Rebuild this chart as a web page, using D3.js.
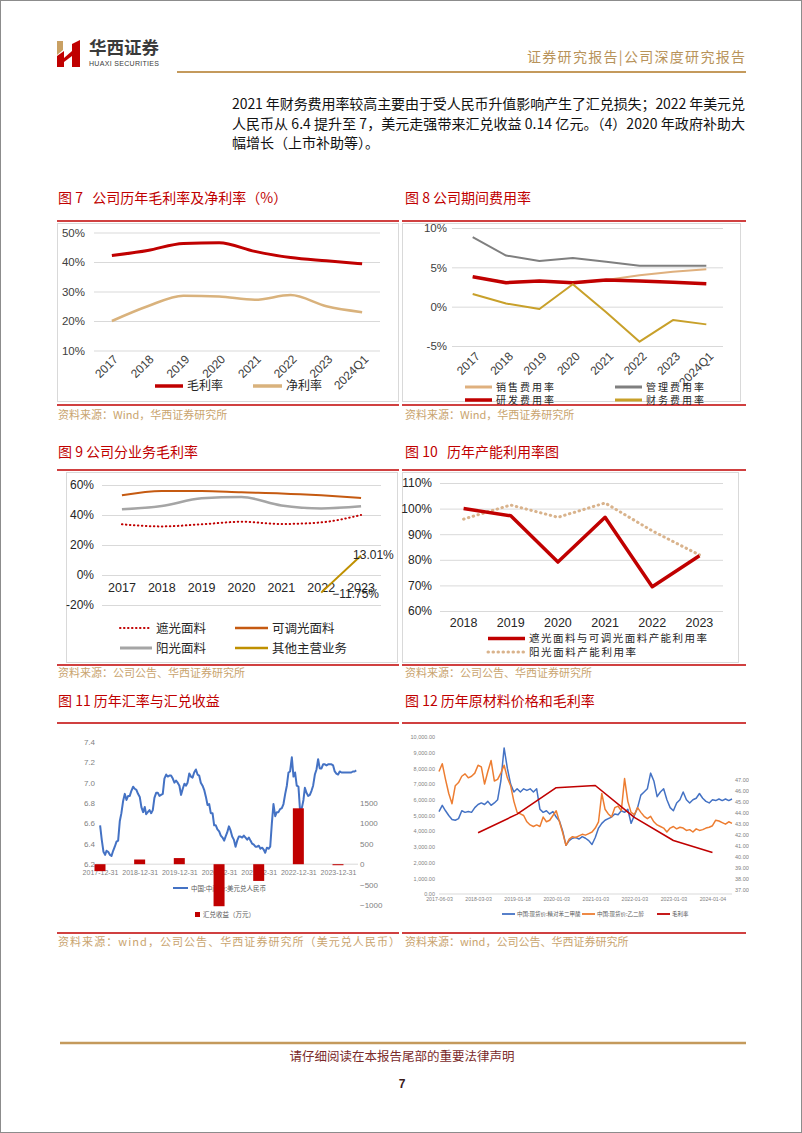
<!DOCTYPE html>
<html><head><meta charset="utf-8">
<script src="https://cdn.jsdelivr.net/npm/d3@7/dist/d3.min.js"></script>
<style>body{margin:0;background:#fff}svg{display:block}text{white-space:pre}</style>
</head><body><svg id="page" width="802" height="1133"></svg>
<script>
// ================= DATA =================
const yearsA = ["2017","2018","2019","2020","2021","2022","2023","2024Q1"];
const grossMargin = [42.2,43.9,46.3,46.5,43.6,41.5,40.4,39.4];
const netMargin   = [20.0,25.0,28.6,28.3,27.2,28.8,25.0,23.0];

const sellRate = [3.8,3.1,3.3,2.95,3.4,4.0,4.45,4.75];
const mgmtRate = [8.85,6.5,5.8,6.2,5.7,5.2,5.2,5.2];
const rdRate   = [3.8,3.05,3.25,3.05,3.4,3.25,3.1,2.9];
const finRate  = [1.6,0.4,-0.3,2.85,-0.7,-4.45,-1.7,-2.25];

const yearsB  = ["2017","2018","2019","2020","2021","2022","2023"];
const shadeGM = [33.8,32.4,33.8,35.5,34.0,35.1,40.0];
const dimGM   = [53.1,56.0,56.0,55.1,54.4,53.1,51.3];
const sunGM   = [43.8,46.0,51.1,52.0,46.4,44.4,45.8];
const otherYears = ["2022","2023"];
const otherGM    = [-11.75,13.01];

const yearsC      = ["2018","2019","2020","2021","2022","2023"];
const capShadeDim = [100.0,97.2,79.1,96.6,69.5,81.6];
const capSun      = [95.9,101.4,96.6,102.2,91.3,81.9];

// USD/CNY central parity, semi-monthly readings (1st & 16th) from 2018-01 to 2024-06
const fxStart = "2018-01-01";
const fxRate = [
 6.58,6.44,6.32,6.29,6.33,6.32,6.29,6.28,6.33,6.37,6.42,6.43,6.62,6.70,6.82,6.89,6.83,6.87,6.87,6.92,6.96,6.94,6.93,6.89,
 6.86,6.76,6.71,6.76,6.69,6.71,6.73,6.70,6.73,6.85,6.90,6.90,6.87,6.88,6.89,7.04,7.08,7.06,7.07,7.07,7.04,7.00,7.02,7.00,
 6.97,6.88,6.94,6.99,6.97,7.00,7.09,7.06,7.05,7.10,7.13,7.08,7.07,7.00,6.97,6.93,6.86,6.78,6.79,6.70,6.70,6.58,6.58,6.54,
 6.52,6.48,6.46,6.43,6.47,6.51,6.57,6.53,6.47,6.44,6.37,6.43,6.47,6.47,6.46,6.48,6.46,6.44,6.46,6.43,6.40,6.39,6.37,6.37,
 6.38,6.35,6.36,6.34,6.31,6.36,6.35,6.37,6.60,6.79,6.67,6.71,6.71,6.74,6.75,6.79,6.89,6.97,7.10,7.11,7.25,7.06,7.10,6.97,
 6.96,6.72,6.75,6.83,6.95,6.90,6.87,6.88,6.92,6.97,7.08,7.13,7.23,7.14,7.14,7.18,7.18,7.17,7.18,7.18,7.18,7.17,7.11,7.09,
 7.08,7.11,7.10,7.10,7.10,7.10,7.10,7.10,7.10,7.11,7.11,7.12];
const fxYearEnds = ["2017-12-31","2018-12-31","2019-12-31","2020-12-31","2021-12-31","2022-12-31","2023-12-31"];
const fxGain = [-170,115,150,-1030,-410,1370,-25];

// Raw material prices: 12 readings per tick interval
const priceTicks = ["2017-06-03","2018-03-03","2019-01-18","2020-01-03","2021-01-03","2022-01-03","2023-01-03","2024-01-04"];
const ptaPrice = [
 5250,5650,5300,5000,4750,4700,4800,5300,5200,5250,
 5200,5500,5700,5800,5700,5900,5650,5800,6000,7200,
 9300,8000,7000,6500,6700,6500,6700,6600,6700,6500,
 6700,5400,5200,5300,5100,5250,4900,4650,4000,3100,
 3400,3550,3600,3500,3650,3550,3400,3150,3600,4200,
 4500,4700,4800,4900,5100,5050,5300,5200,5400,4500,
 5000,5500,6300,6500,6700,7700,7200,6200,6500,6700,
 6000,5500,5300,5800,6000,6500,6000,5800,6000,6100,
 6400,6100,5900,5800,6000,5950,6050,5950,6050,5950,6050];
const megPrice = [
 7800,8300,7300,6400,5750,6900,7100,7500,7650,7400,
 7500,7700,8200,8100,7000,7800,8500,7200,7300,7700,
 8200,7400,6900,5900,5200,5100,5000,4600,4400,4300,
 4400,4300,4900,4600,4700,5000,5300,4600,3900,3100,
 3500,3650,3600,3700,3800,3750,3850,3950,4200,4600,
 6400,5400,5100,4900,5500,5600,5300,7350,5900,5200,
 5050,5500,5200,4950,4800,4950,4600,4400,4300,4200,
 3950,4200,4300,4150,4250,4200,4050,4100,3950,4150,
 4050,4100,4200,4250,4350,4700,4650,4550,4450,4600,4500];
const marginYearly = grossMargin.slice(0,7); // 2017-2023, placed at ticks 2..8

// ================= HELPERS =================
const svg = d3.select("#page");
const RED = "#c00000", GOLD = "#c49a5c", SRC = "#c9a46e";
const CJK = "'Noto Sans CJK SC','Liberation Sans',sans-serif";
const LAT = "'Liberation Sans','Noto Sans CJK SC',sans-serif";

function txt(p, x, y, s, o = {}) {
  const t = p.append("text").attr("x", x).attr("y", y).text(s)
    .attr("font-size", o.fs || 12).attr("fill", o.fill || "#000")
    .attr("font-family", o.ff || CJK).attr("text-anchor", o.anchor || "start")
    .attr("xml:space", "preserve");
  if (o.len) t.attr("textLength", o.len).attr("lengthAdjust", "spacing");
  if (o.fw) t.attr("font-weight", o.fw);
  return t;
}
function hl(p, x1, x2, y, stroke, w, dash) {
  const l = p.append("line").attr("x1", x1).attr("x2", x2).attr("y1", y).attr("y2", y)
    .attr("stroke", stroke).attr("stroke-width", w);
  if (dash) l.attr("stroke-dasharray", dash);
  return l;
}
function styleAxis(a, fs, color, ff) {
  a.select(".domain").remove();
  a.attr("font-family", ff || LAT).attr("font-size", fs);
  a.selectAll(".tick line").attr("stroke", "#d9d9d9").attr("stroke-width", 1);
  a.selectAll(".tick text").attr("fill", color);
}
function path(p, data, line, color, w, dash) {
  const e = p.append("path").datum(data).attr("d", line).attr("fill", "none")
    .attr("stroke", color).attr("stroke-width", w).attr("stroke-linejoin", "round");
  if (dash) e.attr("stroke-dasharray", dash).attr("stroke-linecap", "round");
  return e;
}
function legendItem(p, x1, x2, y, color, w, dash, label, fs, len) {
  const l = hl(p, x1, x2, y, color, w, dash);
  if (dash) l.attr("stroke-linecap", "round");
  txt(p, x2 + 4, y + fs * 0.36, label, { fs: fs, fill: "#262626", len: len });
}
function frame(p, x, y, w, h) {
  p.append("rect").attr("x", x).attr("y", y).attr("width", w).attr("height", h)
    .attr("fill", "none").attr("stroke", "#d9d9d9").attr("stroke-width", 1);
}

// ================= PAGE =================
svg.append("rect").attr("x", 0.5).attr("y", 0.5).attr("width", 801).attr("height", 1132)
  .attr("fill", "#fff").attr("stroke", "#8c8c8c");

// logo
const logo = svg.append("g");
logo.append("path").attr("d", "M57,41 L63,41 L63,50 L57,55 Z").attr("fill", "#c9a063");
logo.append("path").attr("d", "M57,56 L64,51 L64,67 L57,67 Z").attr("fill", RED);
logo.append("path").attr("d", "M64,58 L72,51 L72,56 L64,62 Z").attr("fill", RED);
logo.append("path").attr("d", "M72,44 L80,40 L80,67 L72,67 Z").attr("fill", RED);
txt(svg, 89, 54, "华西证券", { fs: 17.5, fw: "bold", fill: "#3a3a3a", len: 70 });
txt(svg, 89, 66, "HUAXI SECURITIES", { fs: 7, fill: "#3a3a3a", ff: LAT, len: 70 });

txt(svg, 527, 62, "证券研究报告|公司深度研究报告", { fs: 14, fill: "#b8935a", len: 218 });
hl(svg, 177, 746, 72, GOLD, 2);

// paragraph
txt(svg, 232, 109, "2021 年财务费用率较高主要由于受人民币升值影响产生了汇兑损失；2022 年美元兑", { fs: 14, fill: "#111", len: 513 });
txt(svg, 232, 129, "人民币从 6.4 提升至 7，美元走强带来汇兑收益 0.14 亿元。（4）2020 年政府补助大", { fs: 14, fill: "#111", len: 513 });
txt(svg, 232, 148, "幅增长（上市补助等）。", { fs: 14, fill: "#111" });

// titles & separators
txt(svg, 58, 203, "图 7   公司历年毛利率及净利率（%）", { fs: 14, fill: RED });
txt(svg, 405, 203, "图 8 公司期间费用率", { fs: 14, fill: RED });
hl(svg, 57, 399, 221, RED, 1.5); hl(svg, 402, 746, 221, RED, 1.5);
hl(svg, 57, 399, 405, RED, 1.5); hl(svg, 402, 746, 405, RED, 1.5);
txt(svg, 58, 419, "资料来源：Wind，华西证券研究所", { fs: 11, fill: SRC });
txt(svg, 405, 419, "资料来源：Wind，华西证券研究所", { fs: 11, fill: SRC });

txt(svg, 58, 457, "图 9 公司分业务毛利率", { fs: 14, fill: RED });
txt(svg, 405, 457, "图 10   历年产能利用率图", { fs: 14, fill: RED });
hl(svg, 57, 399, 470, RED, 1.5); hl(svg, 402, 746, 470, RED, 1.5);
hl(svg, 57, 399, 665, RED, 1.5); hl(svg, 402, 746, 665, RED, 1.5);
txt(svg, 58, 677, "资料来源：公司公告、华西证券研究所", { fs: 11, fill: SRC });
txt(svg, 405, 677, "资料来源：公司公告、华西证券研究所", { fs: 11, fill: SRC });

txt(svg, 58, 706, "图 11 历年汇率与汇兑收益", { fs: 14, fill: RED });
txt(svg, 405, 706, "图 12 历年原材料价格和毛利率", { fs: 14, fill: RED });
hl(svg, 57, 399, 723, RED, 1.5); hl(svg, 402, 746, 723, RED, 1.5);
hl(svg, 57, 399, 933, RED, 1.5); hl(svg, 402, 746, 933, RED, 1.5);
txt(svg, 58, 946, "资料来源：wind，公司公告、华西证券研究所（美元兑人民币）", { fs: 11, fill: SRC, len: 342 });
txt(svg, 405, 946, "资料来源：wind，公司公告、华西证券研究所", { fs: 11, fill: SRC });

// footer
hl(svg, 60, 746, 1043, GOLD, 2.5);
txt(svg, 402, 1061, "请仔细阅读在本报告尾部的重要法律声明", { fs: 12.5, fill: "#7b2a2a", anchor: "middle" });
txt(svg, 402, 1088, "7", { fs: 12, fw: "bold", fill: "#3a1a1a", anchor: "middle", ff: LAT });

// ================= CHART 7 =================
(function () {
  const g = svg.append("g");
  frame(g, 57.5, 223.5, 341, 178);
  const x = d3.scaleBand().domain(yearsA).range([94, 380]);
  const y = d3.scaleLinear().domain([10, 50]).range([350.5, 232.5]);
  const ya = g.append("g").attr("transform", "translate(94,0)")
    .call(d3.axisLeft(y).tickValues([10, 20, 30, 40, 50]).tickFormat(d => d + "%").tickSize(-286).tickPadding(9));
  styleAxis(ya, 11.5, "#404040");
  const xa = g.append("g").attr("transform", "translate(0,352)").call(d3.axisBottom(x).tickSize(0));
  styleAxis(xa, 12, "#404040");
  xa.selectAll(".tick text").attr("x", 0).attr("y", 0).attr("dy", "0.35em")
    .attr("transform", "translate(4,5) rotate(-45)").attr("text-anchor", "end");
  const cx = (d, i) => x(yearsA[i]) + x.bandwidth() / 2;
  const ln = d3.line().x(cx).y(d => y(d)).curve(d3.curveMonotoneX);
  path(g, netMargin, ln, "#d9b27c", 2.5);
  path(g, grossMargin, ln, RED, 3);
  legendItem(g, 155, 183, 386, RED, 3.5, null, "毛利率", 12);
  legendItem(g, 253, 282, 386, "#d9b27c", 3.5, null, "净利率", 12);
})();

// ================= CHART 8 =================
(function () {
  const g = svg.append("g");
  frame(g, 402.5, 223.5, 338, 178);
  const x = d3.scaleBand().domain(yearsA).range([456, 723]);
  const y = d3.scaleLinear().domain([-5, 10]).range([346, 228]);
  const ya = g.append("g").attr("transform", "translate(452,0)")
    .call(d3.axisLeft(y).tickValues([-5, 0, 5, 10]).tickFormat(d => d + "%").tickSize(-271).tickPadding(5));
  styleAxis(ya, 11.5, "#404040");
  const xa = g.append("g").attr("transform", "translate(0,350)").call(d3.axisBottom(x).tickSize(0));
  styleAxis(xa, 12, "#404040");
  xa.selectAll(".tick text").attr("x", 0).attr("y", 0).attr("dy", "0.35em")
    .attr("transform", "translate(5,4) rotate(-45)").attr("text-anchor", "end");
  const cx = (d, i) => x(yearsA[i]) + x.bandwidth() / 2;
  const ln = d3.line().x(cx).y(d => y(d));
  path(g, sellRate, ln, "#dfb07e", 2);
  path(g, mgmtRate, ln, "#7f7f7f", 2);
  path(g, rdRate, ln, RED, 3.5);
  path(g, finRate, ln, "#c8a02a", 2);
  legendItem(g, 465, 492, 387, "#dfb07e", 3, null, "销售费用率", 10, 58);
  legendItem(g, 615, 642, 387, "#7f7f7f", 3, null, "管理费用率", 10, 58);
  legendItem(g, 465, 492, 400, RED, 3.5, null, "研发费用率", 10, 58);
  legendItem(g, 615, 642, 400, "#c8a02a", 3, null, "财务费用率", 10, 58);
})();

// ================= CHART 9 =================
(function () {
  const g = svg.append("g");
  frame(g, 66.5, 472.5, 331, 190);
  const x = d3.scaleBand().domain(yearsB).range([102, 381]);
  const y = d3.scaleLinear().domain([-20, 60]).range([605, 485]);
  const ya = g.append("g").attr("transform", "translate(102,0)")
    .call(d3.axisLeft(y).tickValues([-20, 0, 20, 40, 60]).tickFormat(d => d + "%").tickSize(-279).tickPadding(8));
  styleAxis(ya, 12, "#262626");
  const xa = g.append("g").attr("transform", "translate(0,575)").call(d3.axisBottom(x).tickSize(0).tickPadding(0));
  styleAxis(xa, 12.5, "#262626");
  xa.selectAll(".tick text").attr("y", 13).attr("dy", "0.35em");
  const cx = (d, i) => x(yearsB[i]) + x.bandwidth() / 2;
  const ln = d3.line().x(cx).y(d => y(d)).curve(d3.curveMonotoneX);
  path(g, dimGM, ln, "#c55a11", 2);
  path(g, sunGM, ln, "#a5a5a5", 2.5);
  path(g, shadeGM, ln, RED, 2, "0.5,3.5");
  const lo = d3.line().x((d, i) => x(otherYears[i]) + x.bandwidth() / 2).y(d => y(d));
  path(g, otherGM, lo, "#bf9000", 2);
  const tx = d => x(otherYears[d]) + x.bandwidth() / 2;
  txt(g, tx(1) - 8, y(otherGM[1]) + 4, d3.format(".2f")(otherGM[1]) + "%", { fs: 12, fill: "#262626", ff: LAT });
  txt(g, tx(0) + 11, y(otherGM[0]) + 5, d3.format(".2f")(otherGM[0]) + "%", { fs: 12, fill: "#262626", ff: LAT });
  legendItem(g, 120, 152, 628, RED, 2, "0.5,3.5", "遮光面料", 12.5);
  legendItem(g, 235, 268, 628, "#c55a11", 2.5, null, "可调光面料", 12.5);
  legendItem(g, 120, 152, 648, "#a5a5a5", 3, null, "阳光面料", 12.5);
  legendItem(g, 235, 268, 648, "#bf9000", 2.5, null, "其他主营业务", 12.5);
})();

// ================= CHART 10 =================
(function () {
  const g = svg.append("g");
  frame(g, 402.5, 472.5, 336, 190);
  const x = d3.scaleBand().domain(yearsC).range([440, 723]);
  const y = d3.scaleLinear().domain([60, 110]).range([611, 483]);
  const ya = g.append("g").attr("transform", "translate(440,0)")
    .call(d3.axisLeft(y).tickValues([60, 70, 80, 90, 100, 110]).tickFormat(d => d + "%").tickSize(-283).tickPadding(8));
  styleAxis(ya, 12, "#262626");
  const xa = g.append("g").attr("transform", "translate(0,611)").call(d3.axisBottom(x).tickSize(0).tickPadding(0));
  styleAxis(xa, 12.5, "#262626");
  xa.selectAll(".tick text").attr("y", 12).attr("dy", "0.35em");
  const cx = (d, i) => x(yearsC[i]) + x.bandwidth() / 2;
  const ln = d3.line().x(cx).y(d => y(d));
  path(g, capSun, ln, "#d9b38c", 3, "0.5,4.5");
  path(g, capShadeDim, ln, RED, 3.5);
  legendItem(g, 488, 525, 638.5, RED, 3.5, null, "遮光面料与可调光面料产能利用率", 10.5, 178);
  legendItem(g, 488, 525, 652, "#d9b38c", 3, "0.5,4.5", "阳光面料产能利用率", 10.5, 107);
})();

// ================= CHART 11 =================
(function () {
  const g = svg.append("g");
  const parse = d3.timeParse("%Y-%m-%d");
  const s0 = parse(fxStart);
  const dates = fxRate.map((d, i) => d3.timeDay.offset(d3.timeMonth.offset(s0, Math.floor(i / 2)), (i % 2) * 15));
  const x = d3.scaleTime().domain([parse(fxYearEnds[0]), parse(fxYearEnds[6])]).range([100, 338]);
  const yL = d3.scaleLinear().domain([6.2, 7.4]).range([864, 742]);
  const yR = d3.scaleLinear().domain([-1000, 1500]).range([905, 803]);
  const la = g.append("g").attr("transform", "translate(96,0)")
    .call(d3.axisLeft(yL).tickValues([6.2, 6.4, 6.6, 6.8, 7.0, 7.2, 7.4]).tickFormat(d3.format(".1f")).tickSize(0).tickPadding(1));
  styleAxis(la, 8, "#7f7f7f");
  const ra = g.append("g").attr("transform", "translate(358,0)")
    .call(d3.axisRight(yR).tickValues([-1000, -500, 0, 500, 1000, 1500]).tickFormat(d3.format("d")).tickSize(0).tickPadding(2));
  styleAxis(ra, 8, "#7f7f7f");
  hl(g, 96, 358, yR(0), "#d9d9d9", 1);
  const xa = g.append("g").attr("transform", `translate(0,${yR(0)})`)
    .call(d3.axisBottom(x).tickValues(fxYearEnds.map(parse)).tickFormat(d3.timeFormat("%Y-%m-%d")).tickSize(0).tickPadding(6));
  styleAxis(xa, 7, "#7f7f7f");
  const ln = d3.line().x((d, i) => x(dates[i])).y(d => yL(d));
  path(g, fxRate, ln, "#4472c4", 2);
  // legend
  hl(g, 173, 188, 888, "#4472c4", 2);
  txt(g, 191, 890.5, "中国:中间价:美元兑人民币", { fs: 6.5, fill: "#595959" });
  g.append("rect").attr("x", 195).attr("y", 912).attr("width", 5).attr("height", 5).attr("fill", RED);
  txt(g, 203, 917, "汇兑收益（万元）", { fs: 6.5, fill: "#595959" });
  // bars
  g.selectAll("rect.bar").data(fxGain).join("rect").attr("class", "bar")
    .attr("x", (d, i) => x(parse(fxYearEnds[i])) - 5.5).attr("width", 11)
    .attr("y", d => yR(Math.max(0, d))).attr("height", d => Math.abs(yR(d) - yR(0)))
    .attr("fill", RED);
})();

// ================= CHART 12 =================
(function () {
  const g = svg.append("g");
  const n = ptaPrice.length - 1;
  const step = 12;
  const x = d3.scaleLinear().domain([0, n]).range([439, 732]);
  const yP = d3.scaleLinear().domain([0, 10000]).range([894, 737]);
  const yM = d3.scaleLinear().domain([37, 47]).range([890, 780]);
  const la = g.append("g").attr("transform", "translate(437,0)")
    .call(d3.axisLeft(yP).tickValues(d3.range(0, 10001, 1000)).tickFormat(d3.format(",.2f")).tickSize(0).tickPadding(2));
  styleAxis(la, 5.5, "#7f7f7f");
  g.append("clipPath").attr("id", "rclip").append("rect").attr("x", 700).attr("y", 760).attr("width", 49).attr("height", 150);
  const ra = g.append("g").attr("clip-path", "url(#rclip)").append("g").attr("transform", "translate(734,0)")
    .call(d3.axisRight(yM).tickValues(d3.range(37, 47.5, 1)).tickFormat(d => d.toFixed(2) + "%").tickSize(0).tickPadding(1));
  styleAxis(ra, 5.5, "#7f7f7f");
  hl(g, 439, 732, 894, "#d9d9d9", 1);
  const xa = g.append("g").attr("transform", "translate(0,894)")
    .call(d3.axisBottom(x).tickValues(priceTicks.map((d, i) => i * step)).tickFormat((d, i) => priceTicks[i]).tickSize(0).tickPadding(3));
  styleAxis(xa, 5.2, "#7f7f7f");
  const ln = d3.line().x((d, i) => x(i)).y(d => yP(d));
  path(g, ptaPrice, ln, "#4472c4", 1.5);
  path(g, megPrice, ln, "#ed7d31", 1.5);
  const lm = d3.line().x((d, i) => x((i + 1) * step)).y(d => yM(d));
  path(g, marginYearly, lm, RED, 1.6);
  hl(g, 502, 515, 914, "#4472c4", 1.8);
  txt(g, 517, 916, "中国:现货价:精对苯二甲酸", { fs: 5.5, fill: "#595959" });
  hl(g, 582, 595, 914, "#ed7d31", 1.8);
  txt(g, 597, 916, "中国:现货价:乙二醇", { fs: 5.5, fill: "#595959" });
  hl(g, 657, 670, 914, RED, 1.8);
  txt(g, 672, 916, "毛利率", { fs: 5.5, fill: "#595959" });
})();
</script></body></html>
